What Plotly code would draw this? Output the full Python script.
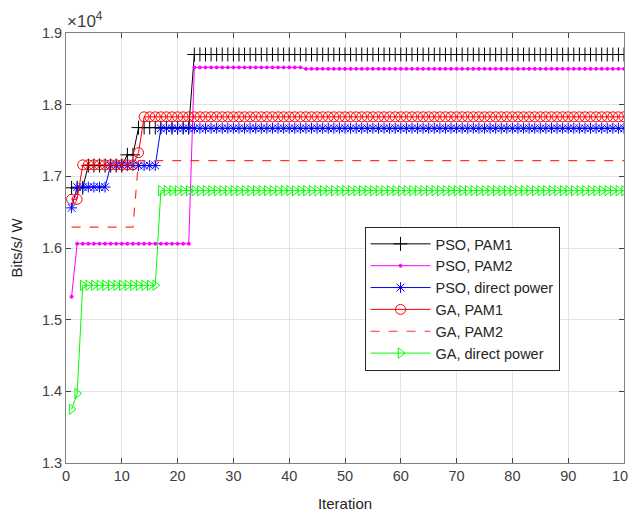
import plotly.graph_objects as go

iterations = list(range(1, 101))

# values in units of 1e4 Bits/s/W (step series)
pso_pam1 = [1.684]*3 + [1.715]*7 + [1.730]*2 + [1.768]*10 + [1.870]*78
pso_pam2 = [1.532]*1 + [1.606]*21 + [1.852]*20 + [1.850]*58
pso_direct = [1.656]*1 + [1.685]*6 + [1.715]*9 + [1.767]*84
ga_pam1 = [1.668]*2 + [1.716]*10 + [1.733]*1 + [1.783]*87
ga_pam2 = [1.629]*12 + [1.722]*88
ga_direct = [1.375]*1 + [1.397]*1 + [1.548]*14 + [1.680]*84

names = ["PSO, PAM1", "PSO, PAM2", "PSO, direct power",
         "GA, PAM1", "GA, PAM2", "GA, direct power"]
series = [pso_pam1, pso_pam2, pso_direct, ga_pam1, ga_pam2, ga_direct]
colors = ["#000000", "#FF00FF", "#0000FF", "#FF0000", "#FF3333", "#00FF00"]
symbols = ["cross-thin-open", "circle", "asterisk-open", "circle-open", None, "triangle-right-open"]
sizes = [10, 3, 9, 10, 0, 9]
dashes = ["solid", "solid", "solid", "solid", "dash", "solid"]

x_ticks = list(range(0, 101, 10))
y_ticks = [1.3, 1.4, 1.5, 1.6, 1.7, 1.8, 1.9]

fig = go.Figure()
for name, ys, c, s, sz, d in zip(names, series, colors, symbols, sizes, dashes):
    if s is None:
        fig.add_trace(go.Scatter(x=iterations, y=ys, name=name, mode="lines",
                                 line=dict(color=c, width=1.2, dash="dash")))
    else:
        fig.add_trace(go.Scatter(x=iterations, y=ys, name=name, mode="lines+markers",
                                 line=dict(color=c, width=1, dash=d),
                                 marker=dict(symbol=s, size=sz, color=c,
                                             line=dict(color=c, width=1))))

axis_common = dict(showline=True, linecolor="#808080", linewidth=1, mirror="ticks",
                   ticks="inside", ticklen=5, tickcolor="#404040",
                   showgrid=True, gridcolor="#E3E3E3", gridwidth=1, zeroline=False,
                   automargin=False, ticklabeloverflow="allow",
                   tickfont=dict(family="Liberation Sans, Arial", size=14.5, color="#404040"))

# page body has an 8px margin, so the figure is offset by (8, 8) in the window
fig.update_layout(
    width=636, height=514,
    margin=dict(l=58, r=20, t=25, b=59),
    paper_bgcolor="white", plot_bgcolor="white",
    font=dict(family="Liberation Sans, Arial", size=14, color="#262626"),
    xaxis=dict(range=[0, 100], tickvals=x_ticks, ticktext=[str(v) for v in x_ticks],
               title=dict(text="Iteration", font=dict(size=15), standoff=15), **axis_common),
    yaxis=dict(range=[1.3, 1.9], tickvals=y_ticks, ticktext=[f"{v:.1f}" for v in y_ticks],
               title=dict(text="Bits/s/ W", font=dict(size=15), standoff=15), **axis_common),
    legend=dict(x=0.535, y=0.549, xanchor="left", yanchor="top",
                bgcolor="white", bordercolor="#262626", borderwidth=1,
                itemwidth=60,
                font=dict(size=14.5, color="#262626"), tracegroupgap=0),
    showlegend=True,
    annotations=[dict(text="×10<sup>4</sup>", xref="paper", yref="paper", x=-0.002, y=1.0,
                      xanchor="left", yanchor="bottom", showarrow=False,
                      font=dict(size=17, color="#404040"))],
)

fig.write_html("out.html")
